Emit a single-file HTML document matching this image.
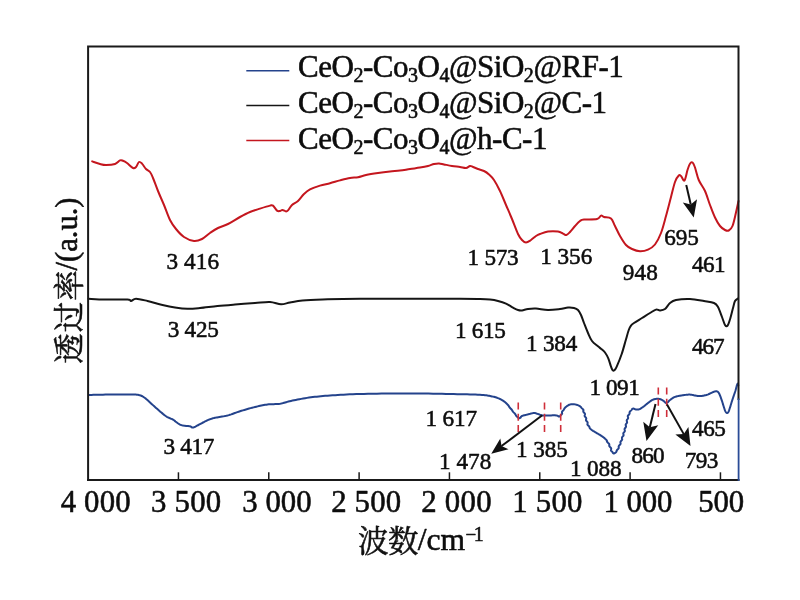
<!DOCTYPE html><html><head><meta charset="utf-8"><title>FTIR</title><style>html,body{margin:0;padding:0;background:#fff;width:800px;height:600px;overflow:hidden}body{font-family:"Liberation Serif",serif}</style></head><body><svg width="800" height="600" viewBox="0 0 800 600" style="position:absolute;left:0;top:0;will-change:transform">
<rect width="800" height="600" fill="#fff"/>
<path d="M92.20 161.40C93.50 161.83 97.70 163.40 100.00 164.00C102.30 164.60 103.50 165.00 106.00 165.00C108.50 165.00 112.67 164.77 115.00 164.00C117.33 163.23 118.67 160.93 120.00 160.40C121.33 159.87 121.83 160.37 123.00 160.80C124.17 161.23 125.33 161.80 127.00 163.00C128.67 164.20 131.50 167.33 133.00 168.00C134.50 168.67 135.00 168.00 136.00 167.00C137.00 166.00 138.00 162.57 139.00 162.00C140.00 161.43 140.83 162.43 142.00 163.60C143.17 164.77 144.67 167.60 146.00 169.00C147.33 170.40 148.83 170.50 150.00 172.00C151.17 173.50 151.67 174.83 153.00 178.00C154.33 181.17 156.17 186.50 158.00 191.00C159.83 195.50 162.00 200.17 164.00 205.00C166.00 209.83 168.00 216.00 170.00 220.00C172.00 224.00 173.67 226.17 176.00 229.00C178.33 231.83 181.00 235.00 184.00 237.00C187.00 239.00 191.00 240.67 194.00 241.00C197.00 241.33 199.33 240.33 202.00 239.00C204.67 237.67 207.33 234.83 210.00 233.00C212.67 231.17 215.00 229.50 218.00 228.00C221.00 226.50 224.33 225.83 228.00 224.00C231.67 222.17 236.33 219.00 240.00 217.00C243.67 215.00 246.67 213.40 250.00 212.00C253.33 210.60 256.67 209.67 260.00 208.60C263.33 207.53 267.83 206.10 270.00 205.60C272.17 205.10 271.83 204.77 273.00 205.60C274.17 206.43 275.83 209.70 277.00 210.60C278.17 211.50 279.10 211.10 280.00 211.00C280.90 210.90 281.40 209.93 282.40 210.00C283.40 210.07 285.07 211.33 286.00 211.40C286.93 211.47 287.00 211.47 288.00 210.40C289.00 209.33 290.33 206.57 292.00 205.00C293.67 203.43 296.00 202.83 298.00 201.00C300.00 199.17 302.00 195.93 304.00 194.00C306.00 192.07 307.33 190.80 310.00 189.40C312.67 188.00 316.67 186.63 320.00 185.60C323.33 184.57 326.67 184.07 330.00 183.20C333.33 182.33 336.67 181.27 340.00 180.40C343.33 179.53 347.00 178.53 350.00 178.00C353.00 177.47 355.33 177.70 358.00 177.20C360.67 176.70 362.67 175.70 366.00 175.00C369.33 174.30 374.00 173.58 378.00 173.00C382.00 172.42 386.33 171.90 390.00 171.50C393.67 171.10 396.67 171.02 400.00 170.60C403.33 170.18 406.67 169.50 410.00 169.00C413.33 168.50 417.00 168.10 420.00 167.60C423.00 167.10 425.67 166.60 428.00 166.00C430.33 165.40 432.17 164.43 434.00 164.00C435.83 163.57 437.33 163.33 439.00 163.40C440.67 163.47 441.83 163.97 444.00 164.40C446.17 164.83 449.33 165.57 452.00 166.00C454.67 166.43 457.67 166.67 460.00 167.00C462.33 167.33 464.33 168.17 466.00 168.00C467.67 167.83 468.83 166.17 470.00 166.00C471.17 165.83 471.67 166.50 473.00 167.00C474.33 167.50 476.17 168.33 478.00 169.00C479.83 169.67 482.17 170.10 484.00 171.00C485.83 171.90 487.33 172.90 489.00 174.40C490.67 175.90 492.17 177.23 494.00 180.00C495.83 182.77 498.00 186.83 500.00 191.00C502.00 195.17 504.00 200.33 506.00 205.00C508.00 209.67 510.00 214.17 512.00 219.00C514.00 223.83 516.33 230.50 518.00 234.00C519.67 237.50 520.67 238.58 522.00 240.00C523.33 241.42 524.50 242.50 526.00 242.50C527.50 242.50 529.33 241.08 531.00 240.00C532.67 238.92 534.50 237.00 536.00 236.00C537.50 235.00 538.00 234.73 540.00 234.00C542.00 233.27 545.00 232.00 548.00 231.60C551.00 231.20 555.50 231.27 558.00 231.60C560.50 231.93 561.60 233.03 563.00 233.60C564.40 234.17 565.23 235.27 566.40 235.00C567.57 234.73 568.57 233.50 570.00 232.00C571.43 230.50 573.33 227.83 575.00 226.00C576.67 224.17 578.50 222.07 580.00 221.00C581.50 219.93 581.17 219.93 584.00 219.60C586.83 219.27 594.17 219.67 597.00 219.00C599.83 218.33 599.83 215.93 601.00 215.60C602.17 215.27 602.33 216.53 604.00 217.00C605.67 217.47 609.17 216.90 611.00 218.40C612.83 219.90 613.50 223.07 615.00 226.00C616.50 228.93 618.17 232.83 620.00 236.00C621.83 239.17 624.00 242.83 626.00 245.00C628.00 247.17 629.67 247.97 632.00 249.00C634.33 250.03 637.33 251.10 640.00 251.20C642.67 251.30 645.50 250.72 648.00 249.60C650.50 248.48 652.83 247.27 655.00 244.50C657.17 241.73 659.17 237.75 661.00 233.00C662.83 228.25 664.33 222.00 666.00 216.00C667.67 210.00 669.50 202.67 671.00 197.00C672.50 191.33 673.71 185.58 675.00 182.00C676.29 178.42 677.75 176.50 678.75 175.50C679.75 174.50 680.04 175.17 681.00 176.00C681.96 176.83 683.42 181.50 684.50 180.50C685.58 179.50 686.58 172.79 687.50 170.00C688.42 167.21 689.17 165.00 690.00 163.75C690.83 162.50 691.67 161.88 692.50 162.50C693.33 163.12 693.96 164.58 695.00 167.50C696.04 170.42 697.08 176.08 698.75 180.00C700.42 183.92 703.12 186.83 705.00 191.00C706.88 195.17 708.33 200.58 710.00 205.00C711.67 209.42 713.33 214.00 715.00 217.50C716.67 221.00 718.33 223.92 720.00 226.00C721.67 228.08 723.54 229.25 725.00 230.00C726.46 230.75 727.50 231.17 728.75 230.50C730.00 229.83 731.29 229.00 732.50 226.00C733.71 223.00 735.00 216.67 736.00 212.50C737.00 208.33 738.08 202.92 738.50 201.00" fill="none" stroke="#c4161e" stroke-width="2" stroke-linejoin="round" stroke-linecap="round"/>
<path d="M88.50 298.75C91.25 298.88 98.50 299.38 105.00 299.50C111.50 299.62 123.17 299.25 127.50 299.50C131.83 299.75 129.58 301.12 131.00 301.00C132.42 300.88 133.25 298.75 136.00 298.75C138.75 298.75 143.08 299.96 147.50 301.00C151.92 302.04 157.92 303.92 162.50 305.00C167.08 306.08 170.83 306.88 175.00 307.50C179.17 308.12 183.33 308.67 187.50 308.75C191.67 308.83 195.00 308.46 200.00 308.00C205.00 307.54 211.67 306.58 217.50 306.00C223.33 305.42 228.75 305.00 235.00 304.50C241.25 304.00 249.17 303.42 255.00 303.00C260.83 302.58 265.67 301.79 270.00 302.00C274.33 302.21 277.67 304.17 281.00 304.25C284.33 304.33 286.42 303.12 290.00 302.50C293.58 301.88 297.08 301.00 302.50 300.50C307.92 300.00 312.92 299.79 322.50 299.50C332.08 299.21 337.08 298.88 360.00 298.75C382.92 298.62 440.00 298.71 460.00 298.75C480.00 298.79 475.00 298.86 480.00 299.00C485.00 299.14 487.00 299.27 490.00 299.60C493.00 299.93 495.33 300.33 498.00 301.00C500.67 301.67 503.50 302.50 506.00 303.60C508.50 304.70 511.00 306.53 513.00 307.60C515.00 308.67 516.50 309.53 518.00 310.00C519.50 310.47 520.33 310.57 522.00 310.40C523.67 310.23 525.67 309.30 528.00 309.00C530.33 308.70 532.67 308.43 536.00 308.60C539.33 308.77 544.00 309.93 548.00 310.00C552.00 310.07 556.67 309.40 560.00 309.00C563.33 308.60 565.67 307.77 568.00 307.60C570.33 307.43 572.33 307.60 574.00 308.00C575.67 308.40 576.83 308.83 578.00 310.00C579.17 311.17 580.00 312.83 581.00 315.00C582.00 317.17 582.83 320.00 584.00 323.00C585.17 326.00 586.67 330.00 588.00 333.00C589.33 336.00 590.33 338.78 592.00 341.00C593.67 343.22 596.33 344.87 598.00 346.30C599.67 347.73 600.83 348.57 602.00 349.60C603.17 350.63 603.95 351.05 605.00 352.50C606.05 353.95 607.33 356.05 608.30 358.30C609.27 360.55 610.13 364.08 610.80 366.00C611.47 367.92 611.85 369.02 612.30 369.80C612.75 370.58 613.05 370.73 613.50 370.70C613.95 370.67 614.47 370.27 615.00 369.60C615.53 368.93 615.58 369.30 616.70 366.70C617.82 364.10 620.18 358.45 621.70 354.00C623.22 349.55 624.62 344.00 625.80 340.00C626.97 336.00 627.88 332.40 628.75 330.00C629.62 327.60 630.12 326.77 631.00 325.60C631.88 324.43 632.17 324.27 634.00 323.00C635.83 321.73 639.33 319.67 642.00 318.00C644.67 316.33 647.67 314.40 650.00 313.00C652.33 311.60 654.33 310.03 656.00 309.60C657.67 309.17 658.50 310.50 660.00 310.40C661.50 310.30 663.33 310.23 665.00 309.00C666.67 307.77 668.17 304.50 670.00 303.00C671.83 301.50 672.67 300.67 676.00 300.00C679.33 299.33 685.33 298.83 690.00 299.00C694.67 299.17 700.00 300.33 704.00 301.00C708.00 301.67 711.67 302.00 714.00 303.00C716.33 304.00 716.67 304.67 718.00 307.00C719.33 309.33 720.83 314.00 722.00 317.00C723.17 320.00 724.07 323.57 725.00 325.00C725.93 326.43 726.70 326.77 727.60 325.60C728.50 324.43 729.50 320.93 730.40 318.00C731.30 315.07 732.23 310.83 733.00 308.00C733.77 305.17 734.17 302.60 735.00 301.00C735.83 299.40 737.50 298.83 738.00 298.40" fill="none" stroke="#151515" stroke-width="2" stroke-linejoin="round" stroke-linecap="round"/>
<path d="M88.50 395.00L89.79 394.97L91.45 394.92L93.42 394.87L95.62 394.81L98.00 394.75L100.48 394.69L102.98 394.63L105.45 394.58L107.81 394.53L110.00 394.50L112.11 394.48L114.28 394.46L116.46 394.45L118.65 394.44L120.80 394.44L122.88 394.44L124.87 394.45L126.74 394.46L128.46 394.48L130.00 394.50L131.34 394.52L132.51 394.53L133.53 394.53L134.43 394.54L135.23 394.56L135.97 394.60L136.66 394.65L137.34 394.73L138.03 394.85L138.75 395.00L139.46 395.17L140.10 395.34L140.69 395.53L141.25 395.73L141.80 395.97L142.35 396.25L142.93 396.58L143.55 396.98L144.23 397.45L145.00 398.00L145.85 398.66L146.76 399.42L147.72 400.27L148.73 401.19L149.77 402.16L150.82 403.15L151.88 404.15L152.94 405.14L153.98 406.09L155.00 407.00L156.02 407.90L157.08 408.82L158.16 409.77L159.24 410.71L160.31 411.64L161.36 412.54L162.37 413.39L163.32 414.18L164.20 414.89L165.00 415.50L165.71 416.01L166.35 416.44L166.93 416.79L167.46 417.08L167.94 417.32L168.38 417.53L168.80 417.71L169.21 417.88L169.60 418.06L170.00 418.25L170.38 418.44L170.72 418.59L171.03 418.72L171.32 418.83L171.59 418.93L171.86 419.03L172.13 419.14L172.40 419.27L172.69 419.42L173.00 419.60L173.33 419.81L173.67 420.05L174.01 420.31L174.36 420.58L174.72 420.86L175.08 421.15L175.43 421.44L175.79 421.72L176.15 421.99L176.50 422.25L176.85 422.50L177.19 422.76L177.53 423.02L177.88 423.27L178.22 423.52L178.56 423.76L178.91 424.00L179.27 424.21L179.63 424.42L180.00 424.60L180.37 424.76L180.74 424.91L181.10 425.04L181.47 425.15L181.84 425.26L182.23 425.36L182.64 425.45L183.06 425.53L183.52 425.62L184.00 425.70L184.54 425.78L185.14 425.84L185.78 425.90L186.45 425.95L187.12 425.99L187.79 426.04L188.43 426.09L189.02 426.15L189.55 426.22L190.00 426.30L190.36 426.40L190.66 426.52L190.89 426.66L191.09 426.80L191.25 426.95L191.39 427.09L191.53 427.22L191.66 427.34L191.82 427.43L192.00 427.50L192.19 427.55L192.37 427.58L192.54 427.60L192.70 427.61L192.88 427.60L193.06 427.58L193.25 427.54L193.47 427.48L193.72 427.40L194.00 427.30L194.31 427.17L194.66 427.02L195.02 426.84L195.41 426.65L195.81 426.43L196.23 426.21L196.66 425.97L197.10 425.73L197.55 425.49L198.00 425.25L198.46 425.00L198.95 424.73L199.46 424.45L199.98 424.16L200.50 423.87L201.02 423.58L201.54 423.29L202.05 423.01L202.54 422.75L203.00 422.50L203.45 422.27L203.88 422.04L204.30 421.82L204.72 421.61L205.12 421.41L205.52 421.21L205.90 421.02L206.28 420.84L206.65 420.67L207.00 420.50L207.33 420.35L207.63 420.21L207.91 420.08L208.18 419.96L208.44 419.84L208.70 419.73L208.98 419.62L209.29 419.50L209.62 419.38L210.00 419.25L210.39 419.12L210.75 418.99L211.12 418.86L211.50 418.73L211.91 418.59L212.36 418.45L212.89 418.30L213.49 418.15L214.19 417.98L215.00 417.80L215.95 417.61L217.02 417.43L218.20 417.23L219.46 417.03L220.78 416.83L222.14 416.60L223.51 416.36L224.88 416.10L226.22 415.81L227.50 415.50L228.74 415.15L229.96 414.77L231.17 414.37L232.38 413.94L233.59 413.50L234.82 413.04L236.07 412.59L237.34 412.13L238.65 411.68L240.00 411.25L241.41 410.82L242.88 410.37L244.39 409.92L245.94 409.47L247.50 409.02L249.06 408.57L250.60 408.15L252.12 407.74L253.59 407.35L255.00 407.00L256.35 406.67L257.66 406.36L258.93 406.07L260.18 405.79L261.41 405.53L262.62 405.29L263.83 405.07L265.04 404.86L266.26 404.67L267.50 404.50L268.76 404.36L270.02 404.27L271.30 404.21L272.57 404.17L273.84 404.15L275.11 404.12L276.36 404.07L277.60 404.01L278.81 403.90L280.00 403.75L281.13 403.55L282.18 403.32L283.19 403.06L284.17 402.78L285.16 402.48L286.17 402.17L287.23 401.85L288.38 401.53L289.62 401.21L291.00 400.90L292.50 400.58L294.10 400.25L295.79 399.91L297.55 399.55L299.38 399.20L301.25 398.86L303.16 398.52L305.10 398.19L307.05 397.88L309.00 397.60L310.94 397.34L312.86 397.09L314.80 396.86L316.75 396.64L318.75 396.44L320.81 396.24L322.94 396.05L325.18 395.86L327.52 395.68L330.00 395.50L332.57 395.32L335.18 395.15L337.87 394.98L340.63 394.81L343.50 394.66L346.49 394.51L349.61 394.36L352.90 394.23L356.35 394.11L360.00 394.00L363.89 393.90L368.04 393.80L372.40 393.72L376.92 393.64L381.56 393.57L386.28 393.51L391.03 393.46L395.76 393.43L400.43 393.41L405.00 393.40L409.57 393.41L414.24 393.44L418.97 393.49L423.72 393.54L428.44 393.61L433.08 393.69L437.60 393.77L441.96 393.85L446.11 393.93L450.00 394.00L453.69 394.07L457.25 394.13L460.67 394.20L463.94 394.27L467.06 394.34L470.02 394.41L472.80 394.49L475.39 394.59L477.80 394.69L480.00 394.80L481.95 394.92L483.62 395.05L485.05 395.19L486.29 395.33L487.38 395.49L488.35 395.65L489.26 395.82L490.14 396.00L491.04 396.20L492.00 396.40L492.97 396.61L493.89 396.83L494.76 397.06L495.58 397.30L496.38 397.55L497.14 397.81L497.87 398.09L498.59 398.37L499.30 398.68L500.00 399.00L500.69 399.33L501.34 399.68L501.98 400.03L502.59 400.40L503.19 400.79L503.77 401.19L504.34 401.61L504.90 402.05L505.45 402.51L506.00 403.00L506.52 403.52L507.07 404.09L507.69 404.68L508.29 405.30L508.74 405.94L509.05 406.58L509.40 407.21L509.91 407.83L510.53 408.43L511.11 409.00L511.62 409.55L512.01 410.09L512.31 410.62L512.60 411.14L512.94 411.65L513.37 412.15L513.86 412.63L514.36 413.11L514.80 413.56L515.17 414.00L515.48 414.43L515.71 414.86L515.91 415.28L516.14 415.69L516.43 416.09L516.78 416.46L517.15 416.80L517.48 417.11L517.75 417.38L518.00 417.60L518.24 417.78L518.46 417.92L518.67 418.03L518.87 418.11L519.06 418.15L519.25 418.17L519.43 418.16L519.62 418.12L519.80 418.07L520.00 418.00L520.18 417.90L520.44 417.75L520.66 417.56L520.73 417.35L520.76 417.12L520.84 416.89L521.05 416.65L521.34 416.41L521.64 416.19L522.00 416.00L522.44 415.82L522.94 415.65L523.51 415.48L524.11 415.32L524.75 415.16L525.41 415.01L526.07 414.85L526.74 414.70L527.38 414.55L528.00 414.40L528.61 414.24L529.23 414.07L529.86 413.89L530.50 413.71L531.12 413.54L531.74 413.38L532.35 413.24L532.93 413.12L533.48 413.04L534.00 413.00L534.48 413.00L534.91 413.04L535.32 413.11L535.70 413.21L536.06 413.33L536.42 413.46L536.79 413.59L537.17 413.74L537.57 413.87L538.00 414.00L538.42 414.13L538.81 414.28L539.17 414.43L539.54 414.60L539.94 414.76L540.38 414.92L540.88 415.07L541.47 415.20L542.17 415.31L543.00 415.40L544.02 415.45L545.25 415.47L546.63 415.47L548.10 415.44L549.62 415.41L551.14 415.38L552.58 415.36L553.91 415.35L555.07 415.36L556.00 415.40L556.71 415.48L557.26 415.61L557.67 415.76L557.97 415.93L558.19 416.10L558.29 416.26L558.48 416.41L558.62 416.52L558.79 416.59L559.00 416.60L559.24 416.57L559.45 416.53L559.64 416.46L559.82 416.37L560.00 416.25L560.16 416.09L560.22 415.89L560.36 415.65L560.61 415.35L560.98 415.00L561.47 414.57L561.94 414.05L562.14 413.46L562.06 412.82L561.96 412.15L562.21 411.47L562.85 410.79L563.54 410.14L563.95 409.54L564.14 409.00L564.40 408.50L564.79 408.02L565.28 407.55L565.76 407.10L566.25 406.67L566.75 406.27L567.25 405.90L567.76 405.56L568.26 405.26L568.75 405.00L569.24 404.78L569.73 404.61L570.21 404.46L570.71 404.36L571.20 404.28L571.70 404.23L572.20 404.20L572.71 404.20L573.23 404.22L573.75 404.25L574.29 404.30L574.86 404.38L575.45 404.49L576.04 404.62L576.63 404.77L577.22 404.94L577.78 405.13L578.33 405.34L578.83 405.56L579.30 405.80L579.73 406.06L580.13 406.34L580.51 406.65L580.86 406.97L581.13 407.31L581.38 407.66L581.69 408.02L582.05 408.38L582.44 408.74L582.81 409.10L583.18 409.46L583.43 409.83L583.49 410.20L583.43 410.58L583.34 410.97L583.29 411.36L583.36 411.74L583.57 412.13L583.89 412.52L584.27 412.90L584.62 413.28L584.87 413.65L585.00 414.02L584.99 414.40L584.88 414.77L584.74 415.14L584.63 415.52L584.63 415.91L584.77 416.30L585.05 416.70L585.43 417.11L585.82 417.53L586.12 417.95L586.26 418.38L586.24 418.82L586.11 419.26L585.99 419.69L585.98 420.13L586.13 420.57L586.45 421.00L586.86 421.43L587.26 421.87L587.55 422.31L587.66 422.74L587.61 423.18L587.48 423.62L587.37 424.05L587.40 424.47L587.59 424.89L587.96 425.30L588.40 425.70L588.84 426.10L589.18 426.49L589.39 426.88L589.50 427.26L589.57 427.64L589.69 428.01L589.92 428.38L590.28 428.74L590.70 429.10L591.09 429.45L591.52 429.79L591.98 430.13L592.46 430.46L592.97 430.79L593.49 431.11L594.02 431.43L594.55 431.75L595.08 432.08L595.60 432.40L596.12 432.72L596.67 433.04L597.22 433.36L597.78 433.68L598.34 434.00L598.90 434.32L599.45 434.64L599.98 434.96L600.50 435.28L601.00 435.60L601.48 435.92L601.96 436.25L602.42 436.57L602.88 436.89L603.32 437.21L603.75 437.54L604.16 437.87L604.56 438.21L604.94 438.55L605.31 438.90L605.72 439.26L606.11 439.62L606.43 439.99L606.66 440.36L606.79 440.74L606.87 441.12L606.98 441.51L607.17 441.90L607.49 442.30L607.90 442.70L608.35 443.11L608.79 443.53L609.12 443.95L609.29 444.38L609.31 444.82L609.26 445.26L609.24 445.69L609.36 446.13L609.65 446.57L610.07 447.00L610.54 447.44L610.95 447.90L611.18 448.37L611.21 448.84L611.09 449.31L610.96 449.77L610.94 450.20L611.08 450.61L611.35 450.98L611.67 451.30L611.99 451.58L612.25 451.83L612.44 452.04L612.57 452.23L612.64 452.39L612.69 452.54L612.73 452.67L612.77 452.78L612.88 452.89L613.00 453.00L613.12 453.10L613.23 453.19L613.33 453.28L613.44 453.34L613.55 453.40L613.66 453.44L613.78 453.46L613.91 453.46L614.05 453.44L614.20 453.40L614.37 453.34L614.55 453.26L614.74 453.16L614.94 453.05L615.14 452.91L615.35 452.76L615.57 452.58L615.80 452.38L616.09 452.15L616.31 451.90L616.45 451.63L616.53 451.33L616.58 451.01L616.65 450.68L616.81 450.31L617.10 449.92L617.52 449.51L618.02 449.07L618.47 448.60L618.74 448.10L618.77 447.56L618.66 446.97L618.66 446.35L619.00 445.69L619.66 445.02L620.32 444.33L620.60 443.64L620.51 442.94L620.39 442.26L620.57 441.60L621.11 440.95L621.74 440.32L622.15 439.68L622.19 439.05L622.01 438.42L621.92 437.78L622.18 437.13L622.75 436.47L623.35 435.79L623.61 435.10L623.47 434.38L623.28 433.63L623.49 432.87L624.15 432.09L624.76 431.30L624.87 430.51L624.61 429.73L624.55 428.97L624.97 428.22L625.62 427.50L626.03 426.80L626.02 426.12L625.77 425.45L625.65 424.80L625.89 424.15L626.41 423.51L626.91 422.88L627.12 422.25L626.99 421.62L626.75 421.00L626.71 420.37L627.01 419.74L627.55 419.11L628.02 418.48L628.17 417.86L628.02 417.25L627.81 416.66L627.79 416.08L628.08 415.53L628.57 415.00L629.08 414.49L629.44 414.00L629.61 413.52L629.60 413.05L629.55 412.61L629.58 412.18L629.75 411.77L630.05 411.39L630.41 411.03L630.78 410.70L631.11 410.39L631.40 410.09L631.62 409.82L631.78 409.56L631.90 409.33L632.08 409.13L632.30 408.95L632.53 408.80L632.76 408.68L633.00 408.60L633.25 408.57L633.50 408.59L633.76 408.65L634.02 408.75L634.29 408.87L634.56 409.00L634.84 409.13L635.12 409.24L635.41 409.34L635.70 409.40L636.00 409.44L636.31 409.48L636.62 409.52L636.94 409.55L637.26 409.57L637.59 409.58L637.92 409.56L638.25 409.53L638.57 409.48L638.90 409.40L639.23 409.29L639.56 409.14L639.90 408.98L640.24 408.79L640.57 408.58L640.91 408.37L641.24 408.14L641.57 407.92L641.89 407.71L642.20 407.50L642.49 407.31L642.76 407.12L643.01 406.94L643.25 406.76L643.49 406.57L643.75 406.38L644.01 406.17L644.31 405.94L644.63 405.68L645.00 405.40L645.42 405.08L645.88 404.71L646.37 404.31L646.89 403.89L647.42 403.46L647.97 403.02L648.50 402.60L649.03 402.20L649.53 401.83L650.00 401.50L650.44 401.20L650.85 400.92L651.24 400.66L651.62 400.41L652.00 400.18L652.38 399.97L652.76 399.77L653.15 399.60L653.56 399.44L654.00 399.30L654.46 399.18L654.95 399.07L655.46 398.98L655.98 398.91L656.50 398.86L657.02 398.83L657.54 398.82L658.05 398.82L658.54 398.85L659.00 398.90L659.44 398.97L659.87 399.08L660.29 399.20L660.70 399.35L661.09 399.52L661.48 399.70L661.87 399.89L662.25 400.09L662.62 400.29L663.00 400.50L663.37 400.74L663.73 401.03L664.09 401.36L664.44 401.70L664.78 402.04L665.12 402.35L665.47 402.63L665.81 402.84L666.15 402.97L666.50 403.00L666.84 402.92L667.18 402.75L667.50 402.51L667.83 402.20L668.16 401.85L668.49 401.47L668.84 401.08L669.20 400.69L669.59 400.33L670.00 400.00L670.43 399.69L670.86 399.36L671.31 399.03L671.77 398.70L672.25 398.36L672.75 398.04L673.27 397.72L673.82 397.43L674.39 397.15L675.00 396.90L675.65 396.68L676.34 396.47L677.07 396.28L677.82 396.11L678.59 395.95L679.38 395.80L680.17 395.67L680.96 395.54L681.74 395.42L682.50 395.30L683.26 395.19L684.04 395.08L684.83 394.97L685.62 394.88L686.41 394.79L687.18 394.72L687.93 394.66L688.66 394.62L689.35 394.60L690.00 394.60L690.60 394.63L691.16 394.68L691.68 394.76L692.18 394.86L692.66 394.97L693.12 395.08L693.58 395.20L694.04 395.31L694.51 395.41L695.00 395.50L695.49 395.58L695.97 395.67L696.44 395.76L696.90 395.85L697.38 395.94L697.86 396.01L698.35 396.07L698.87 396.11L699.42 396.12L700.00 396.10L700.62 396.05L701.29 395.98L701.98 395.89L702.70 395.78L703.44 395.66L704.18 395.51L704.91 395.35L705.63 395.18L706.33 395.00L707.00 394.80L707.65 394.58L708.30 394.32L708.95 394.03L709.59 393.73L710.22 393.42L710.83 393.11L711.42 392.81L711.98 392.54L712.51 392.30L713.00 392.10L713.46 391.93L713.88 391.79L714.28 391.66L714.65 391.55L715.00 391.46L715.33 391.38L715.64 391.33L715.94 391.30L716.22 391.29L716.50 391.30L716.76 391.33L717.00 391.38L717.23 391.46L717.43 391.55L717.62 391.66L717.81 391.79L717.98 391.94L718.16 392.11L718.33 392.30L718.50 392.50L718.67 392.72L718.82 392.94L718.97 393.19L719.11 393.45L719.25 393.73L719.39 394.03L719.53 394.36L719.68 394.71L719.83 395.09L720.00 395.50L720.18 395.94L720.37 396.42L720.56 396.93L720.76 397.47L720.97 398.03L721.18 398.61L721.38 399.20L721.59 399.80L721.80 400.40L722.00 401.00L722.20 401.62L722.41 402.28L722.62 402.96L722.82 403.65L723.03 404.34L723.24 405.03L723.44 405.70L723.63 406.34L723.82 406.95L724.00 407.50L724.17 408.01L724.33 408.50L724.49 408.96L724.64 409.40L724.78 409.81L724.92 410.20L725.07 410.56L725.21 410.90L725.35 411.21L725.50 411.50L725.65 411.76L725.80 412.00L725.95 412.22L726.10 412.41L726.25 412.57L726.40 412.71L726.55 412.83L726.70 412.91L726.85 412.97L727.00 413.00L727.15 413.00L727.30 412.98L727.45 412.94L727.60 412.86L727.75 412.76L727.90 412.63L728.05 412.47L728.20 412.28L728.35 412.06L728.50 411.80L728.65 411.51L728.79 411.17L728.93 410.81L729.08 410.41L729.22 409.98L729.36 409.53L729.51 409.05L729.67 408.55L729.83 408.03L730.00 407.50L730.18 406.94L730.37 406.33L730.56 405.70L730.76 405.03L730.97 404.36L731.18 403.67L731.38 402.98L731.59 402.30L731.80 401.64L732.00 401.00L732.20 400.37L732.41 399.74L732.62 399.12L732.82 398.49L733.03 397.88L733.24 397.27L733.44 396.67L733.63 396.10L733.82 395.54L734.00 395.00L734.17 394.49L734.33 394.02L734.49 393.57L734.64 393.14L734.78 392.72L734.92 392.30L735.07 391.88L735.21 391.44L735.35 390.98L735.50 390.50L735.65 389.97L735.81 389.40L735.97 388.80L736.13 388.18L736.29 387.56L736.45 386.96L736.60 386.39L736.74 385.86L736.88 385.39L737.00 385.00L737.11 384.68L737.22 384.42L737.32 384.21L737.41 384.04L737.49 383.91L737.57 383.80L737.64 383.71L737.70 383.64L737.76 383.57L737.80 383.50 L738.4 386" fill="none" stroke="#24438c" stroke-width="2" stroke-linejoin="round"/>
<g stroke="#1a1a1a" stroke-width="2" fill="none" stroke-linecap="square">
<path d="M88.1 480 L88.1 46.6 L738.5 46.6 L738.5 399"/>
<path d="M88.1 480 L738.5 480"/>
</g>
<g stroke="#1a1a1a" stroke-width="1.5">
<line x1="178.44" y1="472.3" x2="178.44" y2="480"/>
<line x1="268.77" y1="472.3" x2="268.77" y2="480"/>
<line x1="359.11" y1="472.3" x2="359.11" y2="480"/>
<line x1="449.44" y1="472.3" x2="449.44" y2="480"/>
<line x1="539.77" y1="472.3" x2="539.77" y2="480"/>
<line x1="630.11" y1="472.3" x2="630.11" y2="480"/>
<line x1="720.45" y1="472.3" x2="720.45" y2="480"/>
</g>
<path d="M738.6 398.5 L738.6 480.9" fill="none" stroke="#2a4c96" stroke-width="1.8"/>
<g stroke="#cf2f3a" stroke-width="1.6" stroke-dasharray="7 4.3">
<line x1="518.25" y1="402.5" x2="518.25" y2="432.2"/>
<line x1="544.50" y1="402.5" x2="544.50" y2="432.2"/>
<line x1="560.70" y1="402.5" x2="560.70" y2="432.2"/>
<line x1="658.30" y1="387.5" x2="658.30" y2="417.3"/>
<line x1="666.70" y1="387.5" x2="666.70" y2="417.3"/>
</g>
<line x1="686.25" y1="185.00" x2="690.77" y2="204.58" stroke="#111" stroke-width="2.00"/><polygon fill="#111" points="693.75,217.50 682.81,202.58 690.77,204.58 697.04,199.29"/>
<line x1="542.25" y1="415.25" x2="501.52" y2="446.04" stroke="#111" stroke-width="2.00"/><polygon fill="#111" points="491.25,453.80 500.31,438.43 501.52,446.04 508.51,449.28"/>
<line x1="655.50" y1="404.00" x2="649.82" y2="427.36" stroke="#111" stroke-width="2.00"/><polygon fill="#111" points="646.50,441.00 643.27,421.69 649.82,427.36 658.24,425.33"/>
<line x1="667.00" y1="404.50" x2="683.77" y2="434.12" stroke="#111" stroke-width="2.00"/><polygon fill="#111" points="690.50,446.00 675.35,434.47 683.77,434.12 688.40,427.08"/>
<line x1="246.3" y1="70.75" x2="289.3" y2="70.75" stroke="#24438c" stroke-width="1.6"/>
<line x1="246.3" y1="105.50" x2="289.3" y2="105.50" stroke="#151515" stroke-width="1.6"/>
<line x1="246.3" y1="140.50" x2="289.3" y2="140.50" stroke="#c4161e" stroke-width="1.6"/>
<g font-family="'Liberation Serif', serif" fill="#0d0d0d" stroke="#0d0d0d" stroke-width="0.55" stroke-linejoin="round">
<text x="60.65" y="512.00" font-size="30.80" letter-spacing="0.181" xml:space="preserve">4 000</text>
<text x="151.03" y="512.00" font-size="30.80" letter-spacing="0.212" xml:space="preserve">3 500</text>
<text x="242.28" y="512.00" font-size="30.80" letter-spacing="0.024" xml:space="preserve">3 000</text>
<text x="331.15" y="512.00" font-size="30.80" letter-spacing="0.182" xml:space="preserve">2 500</text>
<text x="421.15" y="512.00" font-size="30.80" letter-spacing="0.307" xml:space="preserve">2 000</text>
<text x="512.29" y="512.00" font-size="30.80" letter-spacing="0.208" xml:space="preserve">1 500</text>
<text x="603.54" y="512.00" font-size="30.80" letter-spacing="-0.105" xml:space="preserve">1 000</text>
<text x="698.21" y="512.00" font-size="30.80" letter-spacing="-0.119" xml:space="preserve">500</text>
<text x="166.39" y="269.00" font-size="23.20" letter-spacing="0.150" xml:space="preserve">3 416</text>
<text x="467.56" y="265.00" font-size="23.20" letter-spacing="-0.276" xml:space="preserve">1 573</text>
<text x="540.21" y="263.60" font-size="23.20" letter-spacing="-0.030" xml:space="preserve">1 356</text>
<text x="622.85" y="280.40" font-size="23.20" letter-spacing="0.066" xml:space="preserve">948</text>
<text x="664.25" y="244.60" font-size="23.20" letter-spacing="-0.043" xml:space="preserve">695</text>
<text x="691.95" y="271.60" font-size="23.20" letter-spacing="-0.527" xml:space="preserve">461</text>
<text x="167.64" y="337.00" font-size="23.20" letter-spacing="-0.233" xml:space="preserve">3 425</text>
<text x="454.96" y="338.40" font-size="23.20" letter-spacing="-0.314" xml:space="preserve">1 615</text>
<text x="525.96" y="350.60" font-size="23.20" letter-spacing="-0.200" xml:space="preserve">1 384</text>
<text x="691.95" y="353.60" font-size="23.20" letter-spacing="-1.039" xml:space="preserve">467</text>
<text x="589.56" y="395.00" font-size="23.20" letter-spacing="-0.492" xml:space="preserve">1 091</text>
<text x="163.39" y="453.75" font-size="23.20" letter-spacing="-0.293" xml:space="preserve">3 417</text>
<text x="425.46" y="426.10" font-size="23.20" letter-spacing="-0.148" xml:space="preserve">1 617</text>
<text x="438.96" y="469.00" font-size="23.20" letter-spacing="0.031" xml:space="preserve">1 478</text>
<text x="515.96" y="457.00" font-size="23.20" letter-spacing="-0.064" xml:space="preserve">1 385</text>
<text x="569.96" y="476.25" font-size="23.20" letter-spacing="-0.132" xml:space="preserve">1 088</text>
<text x="631.62" y="462.50" font-size="23.20" letter-spacing="-0.891" xml:space="preserve">860</text>
<text x="684.72" y="468.25" font-size="23.20" letter-spacing="-0.557" xml:space="preserve">793</text>
<text x="692.05" y="435.50" font-size="23.20" letter-spacing="-0.470" xml:space="preserve">465</text>
<text x="298.00" y="77.20" font-size="31" letter-spacing="-0.48" stroke-width="0.55" xml:space="preserve">CeO<tspan font-size="20" dy="5">2</tspan><tspan dy="-5">-</tspan>Co<tspan font-size="20" dy="5">3</tspan><tspan dy="-5">O</tspan><tspan font-size="20" dy="5">4</tspan><tspan dy="-5">@</tspan>SiO<tspan font-size="20" dy="5">2</tspan><tspan dy="-5">@</tspan>RF-1</text>
<text x="298.00" y="112.90" font-size="31" letter-spacing="-0.48" stroke-width="0.55" xml:space="preserve">CeO<tspan font-size="20" dy="5">2</tspan><tspan dy="-5">-</tspan>Co<tspan font-size="20" dy="5">3</tspan><tspan dy="-5">O</tspan><tspan font-size="20" dy="5">4</tspan><tspan dy="-5">@</tspan>SiO<tspan font-size="20" dy="5">2</tspan><tspan dy="-5">@</tspan>C-1</text>
<text x="298.00" y="148.60" font-size="31" letter-spacing="-0.48" stroke-width="0.55" xml:space="preserve">CeO<tspan font-size="20" dy="5">2</tspan><tspan dy="-5">-</tspan>Co<tspan font-size="20" dy="5">3</tspan><tspan dy="-5">O</tspan><tspan font-size="20" dy="5">4</tspan><tspan dy="-5">@</tspan>h-C-1</text>
<text x="417.80" y="549.60" font-size="31.60" xml:space="preserve">/cm</text>
<text x="465.50" y="540.60" font-size="19.00" xml:space="preserve">−</text>
<text x="473.80" y="540.60" font-size="20.00" xml:space="preserve">1</text>
<text transform="translate(76.75 270.4) rotate(-90)" font-size="30.5" xml:space="preserve">/(a.u.)</text>
</g>
<g fill="#111" stroke="#111" stroke-width="0.55" stroke-linejoin="round" font-family="'Liberation Serif', 'Noto Serif CJK SC', serif">
<text x="358.00" y="551.70" font-size="30.5" letter-spacing="-0.5">波数</text>
<text transform="translate(79.70 363.70) rotate(-90)" font-size="30.5" letter-spacing="0.95">透过率</text>
</g>
</svg></body></html>
